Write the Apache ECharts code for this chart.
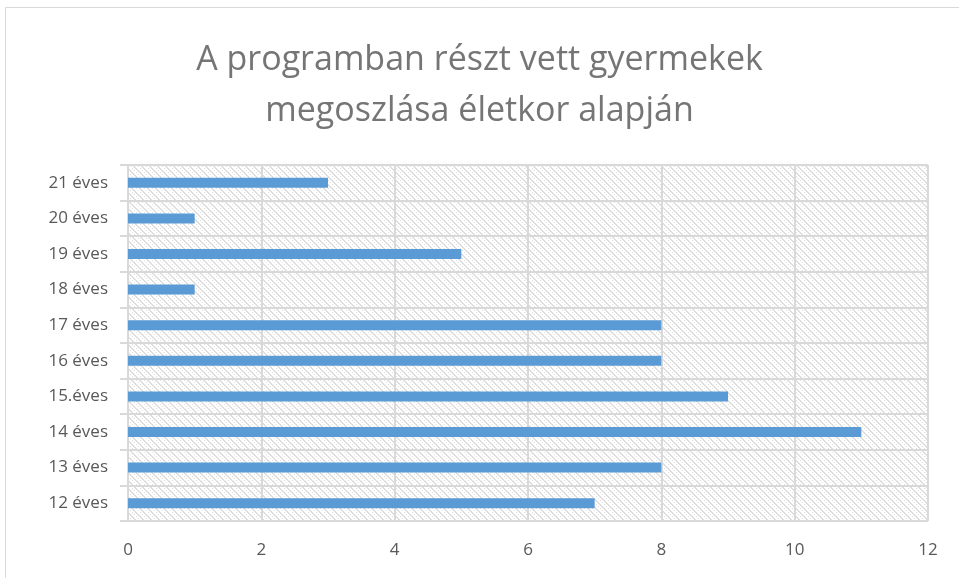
<!DOCTYPE html>
<html>
<head>
<meta charset="utf-8">
<script src="https://cdn.jsdelivr.net/npm/echarts@6/dist/echarts.min.js"></script>
<style>
  html, body { margin: 0; padding: 0; background: #fff; }
  #chart { width: 959px; height: 578px; }
</style>
</head>
<body>
<div id="chart"></div>
<script>
var categories = ['12 éves', '13 éves', '14 éves', '15.éves', '16 éves', '17 éves', '18 éves', '19 éves', '20 éves', '21 éves'];
var values = [7, 8, 11, 9, 8, 8, 1, 5, 1, 3];
var xMin = 0, xMax = 12, xStep = 2;

// hatched background like the spreadsheet plot area
function makeHatch() {
  var c = document.createElement('canvas');
  c.width = 8; c.height = 8;
  var ctx = c.getContext('2d');
  ctx.fillStyle = '#ffffff';
  ctx.fillRect(0, 0, 8, 8);
  ctx.fillStyle = '#dedede';
  for (var i = 0; i < 8; i++) {
    ctx.fillRect(i, i % 8, 1, 1);
    ctx.fillRect(i, (i + 1) % 8, 1, 1);
    if (i % 2 === 0) ctx.fillRect(i, (i + 4) % 8, 1, 1);
  }
  return c;
}

var myChart = echarts.init(document.getElementById('chart'));
var option = {
  backgroundColor: '#ffffff',
  animation: false,
  title: {
    text: 'A programban részt vett gyermekek\nmegoszlása életkor alapján',
    left: 'center',
    top: 30,
    textStyle: {
      fontFamily: 'Open Sans',
      fontWeight: 'normal',
      fontSize: 34,
      lineHeight: 51,
      color: '#757575'
    }
  },
  graphic: [{
    type: 'rect',
    shape: { x: 5.5, y: 7.5, width: 960, height: 600 },
    style: { fill: 'none', stroke: '#d9d9d9', lineWidth: 1 },
    silent: true
  }],
  grid: {
    left: 128,
    right: 31,
    top: 165,
    bottom: 57,
    show: true,
    backgroundColor: { image: makeHatch(), repeat: 'repeat' },
    borderColor: '#d9d9d9',
    borderWidth: 1
  },
  xAxis: {
    type: 'value',
    min: xMin,
    max: xMax,
    interval: xStep,
    axisLine: { show: false },
    axisTick: { show: false },
    splitLine: { show: true, lineStyle: { color: '#d9d9d9', width: 2 } },
    axisLabel: {
      margin: 21,
      fontFamily: 'Open Sans',
      fontSize: 17,
      color: '#595959'
    }
  },
  yAxis: {
    type: 'category',
    data: categories,
    axisLine: { show: true, lineStyle: { color: '#d9d9d9', width: 2 } },
    axisTick: { show: true, length: 8, lineStyle: { color: '#d9d9d9', width: 2 } },
    splitLine: { show: true, lineStyle: { color: '#d9d9d9', width: 2 } },
    axisLabel: {
      margin: 20,
      fontFamily: 'Open Sans',
      fontSize: 17,
      color: '#595959'
    }
  },
  series: [{
    type: 'bar',
    data: values,
    barWidth: 10,
    itemStyle: { color: '#5b9bd5' }
  }]
};
myChart.setOption(option);
</script>
</body>
</html>
